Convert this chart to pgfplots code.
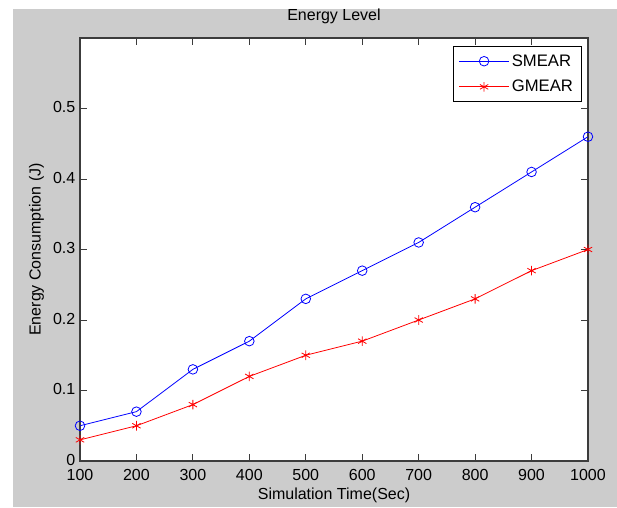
\documentclass[border=0pt]{standalone}
\usepackage{fontspec}
\setmainfont{Liberation Sans}
\usepackage{pgfplots}
\pgfplotsset{compat=1.18}
\definecolor{mgray}{RGB}{204,204,204}
\definecolor{axgray}{RGB}{60,60,60}

\begin{document}
\begin{tikzpicture}[font=\fontsize{12}{14}\selectfont]
% page and the grey figure background (MATLAB style)
\fill[white] (0pt,0pt) rectangle (462.75pt,-380.25pt);
\fill[mgray] (9.75pt,-6.75pt) rectangle (462.75pt,-380.25pt);
\begin{axis}[
    at={(60pt,-345.75pt)}, anchor=south west,
    scale only axis,
    width=381pt, height=317.25pt,
    axis background/.style={fill=white},
    axis line style={axgray, line width=0.8pt},
    every tick/.style={axgray, line width=0.6pt},
    major tick length=5pt,
    tick align=inside,
    xmin=100, xmax=1000,
    ymin=0, ymax=0.6,
    xtick={100,200,...,1000},
    ytick={0,0.1,0.2,0.3,0.4,0.5},
    /pgf/number format/assume math mode=true,
    yticklabel style={/pgf/number format/fixed, /pgf/number format/precision=1, yshift=1pt},
    xticklabel style={/pgf/number format/set thousands separator={}, yshift=-2.5pt},
    title={Energy Level},
    title style={yshift=1pt},
    xlabel={Simulation Time(Sec)},
    xlabel style={yshift=1.5pt},
    ylabel={Energy Consumption (J)},
    legend style={at={(1,1)}, anchor=north east, xshift=-5pt, yshift=-6pt,
        draw=black, line width=0.6pt, fill=white, font=\fontsize{12.5}{14}\selectfont,
        row sep=5pt, inner xsep=4pt, inner ysep=4pt},
    legend cell align=left,
    legend image code/.code={\draw[mark repeat=2,mark phase=2] plot coordinates {(0cm,0cm)(0.65cm,0cm)(1.3cm,0cm)};},
]
\addplot[blue, line width=0.6pt, mark=o, mark size=3.6pt, mark options={solid}] coordinates {
    (100,0.05) (200,0.07) (300,0.13) (400,0.17) (500,0.23)
    (600,0.27) (700,0.31) (800,0.36) (900,0.41) (1000,0.46)
};
\addlegendentry{SMEAR}
\addplot[red, line width=0.6pt, mark=asterisk, mark size=3.6pt, mark options={solid}] coordinates {
    (100,0.03) (200,0.05) (300,0.08) (400,0.12) (500,0.15)
    (600,0.17) (700,0.20) (800,0.23) (900,0.27) (1000,0.30)
};
\addlegendentry{GMEAR}
\end{axis}
\end{tikzpicture}
\end{document}
